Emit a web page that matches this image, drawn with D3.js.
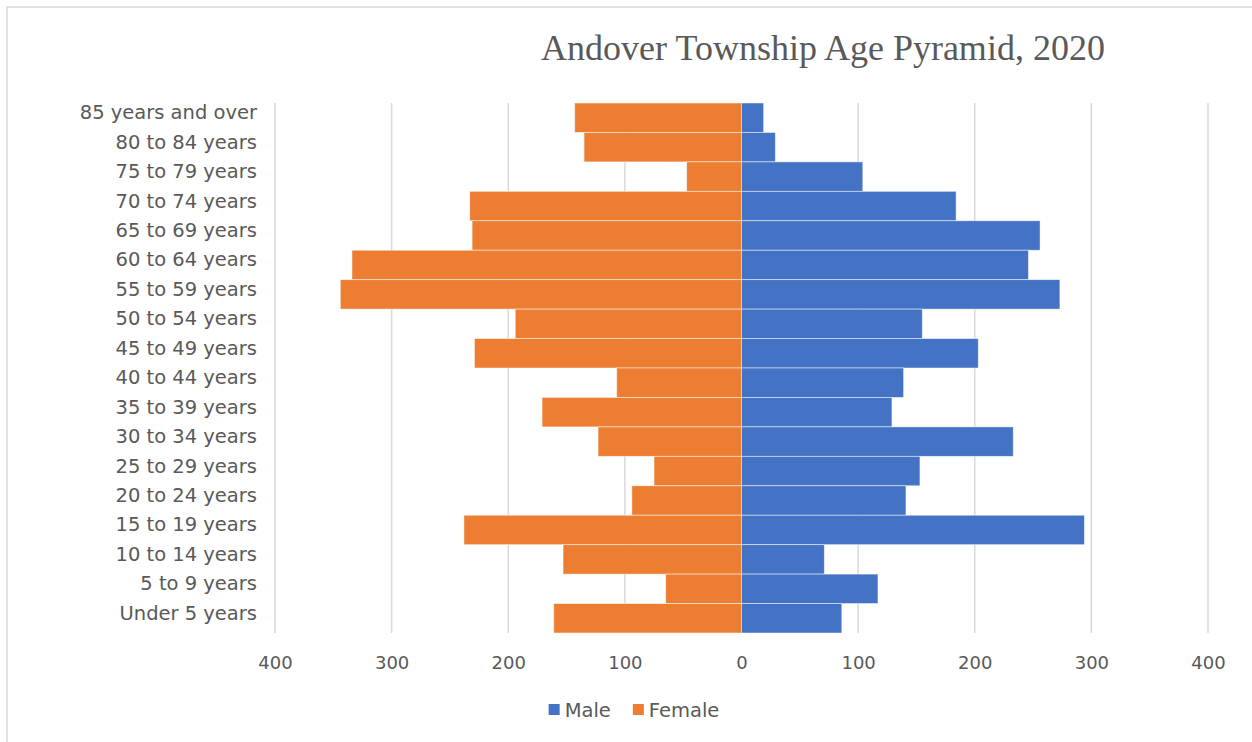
<!DOCTYPE html>
<html>
<head>
<meta charset="utf-8">
<script src="https://cdn.jsdelivr.net/npm/d3@7"></script>
<style>
  html, body { margin: 0; padding: 0; background: #fff; }
  svg { display: block; }
</style>
</head>
<body>
<svg id="chart" width="1252" height="742"></svg>
<script>
// Age groups, top of the pyramid first
const ageGroups = [
  "85 years and over", "80 to 84 years", "75 to 79 years", "70 to 74 years",
  "65 to 69 years", "60 to 64 years", "55 to 59 years", "50 to 54 years",
  "45 to 49 years", "40 to 44 years", "35 to 39 years", "30 to 34 years",
  "25 to 29 years", "20 to 24 years", "15 to 19 years", "10 to 14 years",
  "5 to 9 years", "Under 5 years"
];
const male   = [19, 29, 104, 184, 256, 246, 273, 155, 203, 139, 129, 233, 153, 141, 294, 71, 117, 86];
const female = [143, 135, 47, 233, 231, 334, 344, 194, 229, 107, 171, 123, 75, 94, 238, 153, 65, 161];
const tickValues = [-400, -300, -200, -100, 0, 100, 200, 300, 400];
const seriesNames = ["Male", "Female"];
const seriesColors = ["#4472C4", "#ED7D31"];
const titleText = "Andover Township Age Pyramid, 2020";

const textColor = "#595959";
const gridColor = "#d9d9d9";
const sansFont = "'DejaVu Sans', sans-serif";

const svg = d3.select("#chart");

// chart frame
svg.append("rect")
  .attr("x", 7).attr("y", 7)
  .attr("width", 1300).attr("height", 800)
  .attr("fill", "none").attr("stroke", gridColor).attr("stroke-width", 1.5);

const x = d3.scaleLinear().domain([-400, 400]).range([275, 1208]);
const y = d3.scaleBand().domain(ageGroups).range([103, 633]).padding(0);

// vertical gridlines
svg.append("g").selectAll("line")
  .data(tickValues)
  .join("line")
  .attr("x1", d => x(d)).attr("x2", d => x(d))
  .attr("y1", 103).attr("y2", 633)
  .attr("stroke", gridColor).attr("stroke-width", 1.5);

// female bars (left)
svg.append("g").selectAll("rect")
  .data(ageGroups)
  .join("rect")
  .attr("x", (d, i) => x(-female[i]))
  .attr("y", d => y(d))
  .attr("width", (d, i) => x(0) - x(-female[i]))
  .attr("height", y.bandwidth())
  .attr("fill", seriesColors[1])
  .attr("stroke", "#fff").attr("stroke-opacity", 0.6).attr("stroke-width", 0.8);

// male bars (right)
svg.append("g").selectAll("rect")
  .data(ageGroups)
  .join("rect")
  .attr("x", x(0))
  .attr("y", d => y(d))
  .attr("width", (d, i) => x(male[i]) - x(0))
  .attr("height", y.bandwidth())
  .attr("fill", seriesColors[0])
  .attr("stroke", "#fff").attr("stroke-opacity", 0.6).attr("stroke-width", 0.8);

// category axis labels
const yAxis = d3.axisLeft(y).tickSize(0).tickPadding(0);
const yAxisG = svg.append("g")
  .attr("transform", "translate(257,0)")
  .call(yAxis);
yAxisG.select(".domain").remove();
yAxisG.selectAll("text")
  .attr("dy", null)
  .attr("y", 1.5)
  .attr("fill", textColor)
  .style("font-family", sansFont)
  .style("font-size", "19.5px");

// value axis labels (absolute values)
const xAxis = d3.axisBottom(x).tickValues(tickValues).tickSize(0).tickPadding(0)
  .tickFormat(d => Math.abs(d));
const xAxisG = svg.append("g")
  .attr("transform", "translate(0,656)")
  .call(xAxis);
xAxisG.select(".domain").remove();
xAxisG.selectAll("text")
  .attr("dy", null)
  .attr("y", 13)
  .attr("fill", textColor)
  .style("font-family", sansFont)
  .style("font-size", "18px");

// title
svg.append("text")
  .attr("x", 823).attr("y", 60)
  .attr("text-anchor", "middle")
  .attr("fill", textColor)
  .style("font-family", "'Liberation Serif', serif")
  .style("font-size", "36px")
  .text(titleText);

// legend
const legend = svg.append("g");
let lx = 0;
seriesNames.forEach((name, i) => {
  legend.append("rect")
    .attr("x", lx).attr("y", 704)
    .attr("width", 11).attr("height", 11)
    .attr("fill", seriesColors[i]);
  const t = legend.append("text")
    .attr("x", lx + 16).attr("y", 716.5)
    .attr("fill", textColor)
    .style("font-family", sansFont)
    .style("font-size", "19.5px")
    .text(name);
  lx += 16 + t.node().getComputedTextLength() + 22;
});
const lw = lx - 22;
legend.attr("transform", `translate(${634 - lw / 2},0)`);
</script>
</body>
</html>
